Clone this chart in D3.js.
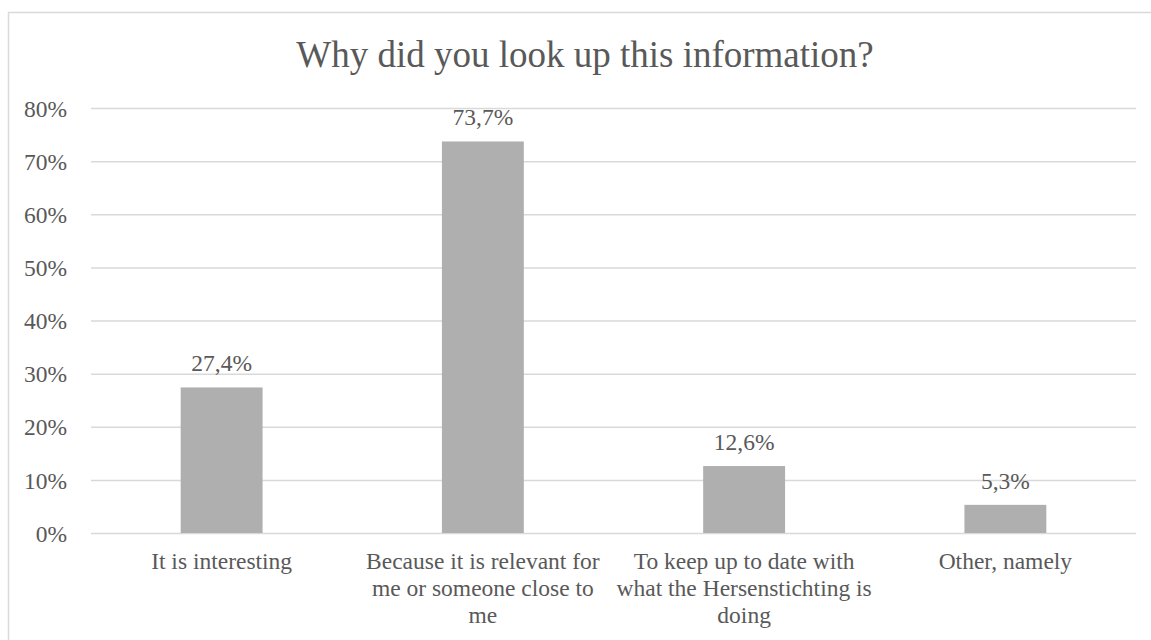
<!DOCTYPE html>
<html>
<head>
<meta charset="utf-8">
<script src="https://cdn.jsdelivr.net/npm/d3@7"></script>
<style>
  html, body { margin: 0; padding: 0; background: #ffffff; }
  svg text { font-family: "Liberation Serif", "Times New Roman", serif; }
</style>
</head>
<body>
<svg id="chart" width="1151" height="640"></svg>
<script>
// Survey answers: why respondents looked up the information
const categories = [
  "It is interesting",
  "Because it is relevant for me or someone close to me",
  "To keep up to date with what the Hersenstichting is doing",
  "Other, namely"
];
// Line breaks used for the category labels under the axis
const categoryLines = [
  ["It is interesting"],
  ["Because it is relevant for", "me or someone close to", "me"],
  ["To keep up to date with", "what the Hersenstichting is", "doing"],
  ["Other, namely"]
];
const values = [27.4, 73.7, 12.6, 5.3];          // percent of respondents
const valueLabels = ["27,4%", "73,7%", "12,6%", "5,3%"];
const yTicks = [0, 10, 20, 30, 40, 50, 60, 70, 80];
const yTickLabels = ["0%", "10%", "20%", "30%", "40%", "50%", "60%", "70%", "80%"];
const title = "Why did you look up this information?";

const svg = d3.select("#chart");
const textColor = "#595959";
const gridColor = "#d9d9d9";
const barColor = "#afafaf";
const serif = "'Liberation Serif', 'Times New Roman', serif";
const labelSize = "23.5px";

const plot = { left: 91, right: 1136, top: 108, bottom: 533 };

// Chart frame (left and top edges visible)
svg.append("path")
  .attr("d", "M8.5,660 L8.5,12.5 L1160,12.5")
  .attr("fill", "none")
  .attr("stroke", gridColor)
  .attr("stroke-width", 1.5);

const x = d3.scaleBand()
  .domain(categories)
  .range([plot.left, plot.right])
  .paddingInner(0)
  .paddingOuter(0);

const y = d3.scaleLinear()
  .domain([0, 80])
  .range([plot.bottom, plot.top]);

const barWidth = x.bandwidth() / 3.19;

// Gridlines and y tick labels
const yAxis = d3.axisLeft(y)
  .tickValues(yTicks)
  .tickFormat((d, i) => yTickLabels[i])
  .tickSize(-(plot.right - plot.left))
  .tickPadding(24);

const yG = svg.append("g")
  .attr("transform", `translate(${plot.left},0)`)
  .call(yAxis)
  .attr("font-family", null)
  .attr("font-size", null);
yG.select(".domain").remove();
yG.selectAll(".tick line")
  .attr("stroke", gridColor)
  .attr("stroke-width", 1.5);
yG.selectAll(".tick text")
  .attr("fill", textColor)
  .style("font-family", serif)
  .style("font-size", labelSize)
  .attr("dy", "0.35em");

// Bars
svg.append("g")
  .selectAll("rect")
  .data(values)
  .join("rect")
  .attr("x", (d, i) => x(categories[i]) + x.bandwidth() / 2 - barWidth / 2)
  .attr("width", barWidth)
  .attr("y", d => y(d))
  .attr("height", d => y(0) - y(d))
  .attr("fill", barColor);

// Value labels above the bars
svg.append("g")
  .selectAll("text")
  .data(values)
  .join("text")
  .attr("x", (d, i) => x(categories[i]) + x.bandwidth() / 2)
  .attr("y", d => y(d) - 16)
  .attr("text-anchor", "middle")
  .attr("fill", textColor)
  .style("font-family", serif)
  .style("font-size", labelSize)
  .text((d, i) => valueLabels[i]);

// Category labels
const xG = svg.append("g");
categories.forEach((c, i) => {
  const cx = x(c) + x.bandwidth() / 2;
  const t = xG.append("text")
    .attr("text-anchor", "middle")
    .attr("fill", textColor)
    .style("font-family", serif)
    .style("font-size", labelSize);
  categoryLines[i].forEach((line, j) => {
    t.append("tspan")
      .attr("x", cx)
      .attr("y", 569 + j * 27)
      .text(line);
  });
});

// Title
svg.append("text")
  .attr("x", 585)
  .attr("y", 67)
  .attr("text-anchor", "middle")
  .attr("fill", textColor)
  .style("font-family", serif)
  .style("font-size", "37px")
  .text(title);
</script>
</body>
</html>
